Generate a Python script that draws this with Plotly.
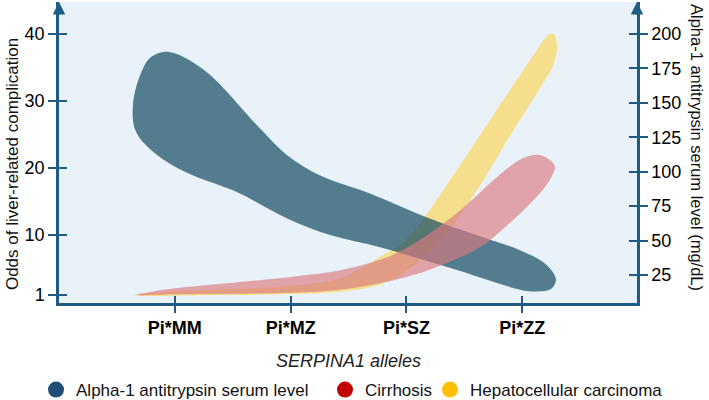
import plotly.graph_objects as go

# ---------------- data ----------------
alleles = ["Pi*MM", "Pi*MZ", "Pi*SZ", "Pi*ZZ"]
allele_pos = [0, 1, 2, 3]
odds_ticks = [1, 10, 20, 30, 40]
serum_ticks = [25, 50, 75, 100, 125, 150, 175, 200]

# Alpha-1 antitrypsin serum level band (mg/dL, right axis)
# outline: from right tip, along upper edge leftwards, round the left bulb, back along lower edge
aat_upper_x = [3.29, 3.2, 2.98, 2.6, 2.2, 1.69, 1.26, 0.97, 0.74, 0.25, -0.05, -0.21, -0.29, -0.36]
aat_upper_y = [22, 33, 43, 54, 66, 84, 97, 112, 131, 174, 187, 183, 172, 150]
aat_lower_x = [-0.34, -0.18, 0.11, 0.54, 0.97, 1.34, 1.78, 2.38, 3.0, 3.12, 3.25]
aat_lower_y = [130, 114, 99, 85, 66, 54, 45, 30, 14, 13, 15]

# Cirrhosis odds band (left axis): upper edge L->R, lower edge R->L
cir_upper_x = [-0.33, -0.2, 0.0, 1.0, 1.43, 1.78, 1.92, 2.2, 2.5, 2.78, 3.0, 3.16, 3.28]
cir_upper_y = [1.05, 1.5, 2.0, 3.7, 4.7, 6.3, 7.3, 10.2, 14.2, 18.6, 21.4, 21.9, 20.3]
cir_lower_x = [3.24, 3.12, 2.92, 2.64, 2.35, 2.06, 1.78, 1.43, 1.0, 0.0, -0.33]
cir_lower_y = [18.3, 15.6, 12.2, 8.2, 5.8, 4.0, 2.8, 1.8, 1.35, 1.1, 1.0]

# Hepatocellular carcinoma odds band (left axis)
hcc_upper_x = [-0.36, 0.0, 0.5, 1.0, 1.43, 1.78, 1.95, 2.15, 2.35, 2.64, 2.92, 3.1, 3.2, 3.26]
hcc_upper_y = [0.95, 1.55, 1.9, 2.4, 3.5, 6.8, 8.6, 12.5, 17.5, 25.0, 32.3, 36.9, 39.4, 40.1]
hcc_lower_x = [3.3, 3.27, 3.12, 2.9, 2.64, 2.29, 2.03, 1.78, 1.43, 1.0, 0.5, 0.0, -0.3]
hcc_lower_y = [38.6, 35.5, 31.0, 25.0, 17.5, 9.0, 5.0, 2.6, 1.5, 1.15, 1.0, 0.9, 0.85]

legend_names = ["Alpha-1 antitrypsin serum level", "Cirrhosis", "Hepatocellular carcinoma"]
legend_colors = ["#1F4E79", "#C00000", "#FFC000"]

# ---------------- style ----------------
AX = "#1F5C85"
BG = "#E9F2F9"
FONT = "Arial, Liberation Sans, sans-serif"
LEFT_RANGE = [-0.195, 44.78]
RIGHT_RANGE = [4.67, 223.24]
X_RANGE = [-1.0, 3.99]
LEGEND_X = [0.0508, 0.4584, 0.6065]


def closed(ux, uy, lx, ly):
    return ux + lx + [ux[0]], uy + ly + [uy[0]]


def band(xs, ys, color, yaxis):
    return go.Scatter(x=xs, y=ys, mode="lines", fill="toself", fillcolor=color,
                      line=dict(width=0, shape="spline", smoothing=1, color="rgba(0,0,0,0)"),
                      showlegend=False, hoverinfo="skip", xaxis="x", yaxis=yaxis)


fig = go.Figure()

hx, hy = closed(hcc_upper_x, hcc_upper_y, hcc_lower_x, hcc_lower_y)
fig.add_trace(band(hx, hy, "rgb(245,222,140)", "y"))

bx, by = closed(aat_upper_x, aat_upper_y, aat_lower_x, aat_lower_y)
fig.add_trace(band(bx, by, "rgba(18,75,98,0.7)", "y2"))

cx, cy = closed(cir_upper_x, cir_upper_y, cir_lower_x, cir_lower_y)
fig.add_trace(band(cx, cy, "rgba(217,122,127,0.66)", "y3"))

# invisible traces so the inside-tick overlay axes exist
fig.add_trace(go.Scatter(x=[None], y=[None], showlegend=False, xaxis="x", yaxis="y4"))
fig.add_trace(go.Scatter(x=[None], y=[None], showlegend=False, xaxis="x2", yaxis="y"))

legend_ids = ["legend", "legend2", "legend3"]
for name, col, lid in zip(legend_names, legend_colors, legend_ids):
    fig.add_trace(go.Scatter(x=[None], y=[None], mode="markers", name=name, legend=lid,
                             marker=dict(color=col, size=16, symbol="circle"),
                             xaxis="x", yaxis="y"))

tick_font = dict(family=FONT, size=18, color="black")


def legend_box(xpos):
    return dict(orientation="h", xref="container", x=xpos, xanchor="left",
                yref="container", y=0.025, yanchor="middle",
                font=dict(family=FONT, size=17, color="#111"), itemsizing="trace",
                bgcolor="rgba(0,0,0,0)")


fig.update_layout(
    width=709, height=400,
    margin=dict(l=59, r=72, t=2, b=97),
    paper_bgcolor="white", plot_bgcolor=BG,
    font=dict(family=FONT, color="black"),
    xaxis=dict(range=X_RANGE, tickvals=allele_pos, ticktext=alleles,
               tickfont=dict(family=FONT, size=18, color="black", weight="bold"),
               ticks="outside", ticklen=7, tickwidth=2, tickcolor=AX,
               showline=True, linecolor=AX, linewidth=2.5, showgrid=False, zeroline=False),
    xaxis2=dict(range=X_RANGE, overlaying="x", anchor="y", side="bottom",
                tickvals=allele_pos, showticklabels=False,
                ticks="inside", ticklen=7, tickwidth=2, tickcolor=AX,
                showline=False, showgrid=False, zeroline=False),
    yaxis=dict(range=LEFT_RANGE, tickvals=odds_ticks, tickfont=tick_font,
               ticks="outside", ticklen=8, tickwidth=2, tickcolor=AX,
               showline=True, linecolor=AX, linewidth=2.5, showgrid=False, zeroline=False),
    yaxis2=dict(range=RIGHT_RANGE, overlaying="y", side="right", anchor="x",
                tickvals=serum_ticks, tickfont=tick_font,
                ticks="outside", ticklen=8, tickwidth=2, tickcolor=AX,
                showline=True, linecolor=AX, linewidth=2.5, showgrid=False, zeroline=False),
    yaxis3=dict(range=LEFT_RANGE, overlaying="y", side="left", anchor="x",
                tickvals=odds_ticks, showticklabels=False,
                ticks="inside", ticklen=8, tickwidth=2, tickcolor=AX,
                showline=False, showgrid=False, zeroline=False),
    yaxis4=dict(range=RIGHT_RANGE, overlaying="y", side="right", anchor="x",
                tickvals=serum_ticks, showticklabels=False,
                ticks="inside", ticklen=8, tickwidth=2, tickcolor=AX,
                showline=False, showgrid=False, zeroline=False),
    legend=legend_box(LEGEND_X[0]),
    legend2=legend_box(LEGEND_X[1]),
    legend3=legend_box(LEGEND_X[2]),
    showlegend=True,
)

# axis titles
fig.add_annotation(text="<i>SERPINA1 alleles</i>", xref="paper", yref="paper",
                   x=0.5, y=-0.192, xanchor="center", yanchor="middle",
                   showarrow=False, font=dict(family=FONT, size=18, color="#222"))
fig.add_annotation(text="Odds of liver-related complication", xref="paper", yref="paper",
                   x=-0.0813, y=0.4615, xanchor="center", yanchor="middle", textangle=-90,
                   showarrow=False, font=dict(family=FONT, size=17, color="#111"))
fig.add_annotation(text="Alpha-1 antitrypsin serum level (mg/dL)", xref="paper", yref="paper",
                   x=1.1038, y=0.515, xanchor="center", yanchor="middle", textangle=90,
                   showarrow=False, font=dict(family=FONT, size=16.5, color="#111"))

# arrow heads on the two y axes
for xp in (0, 1):
    fig.add_annotation(x=xp, y=1, xref="paper", yref="paper", ax=0, ay=14,
                       axref="pixel", ayref="pixel", text="", showarrow=True,
                       arrowhead=2, arrowsize=1, arrowwidth=2.5, arrowcolor=AX)

fig.write_html("out.html")
